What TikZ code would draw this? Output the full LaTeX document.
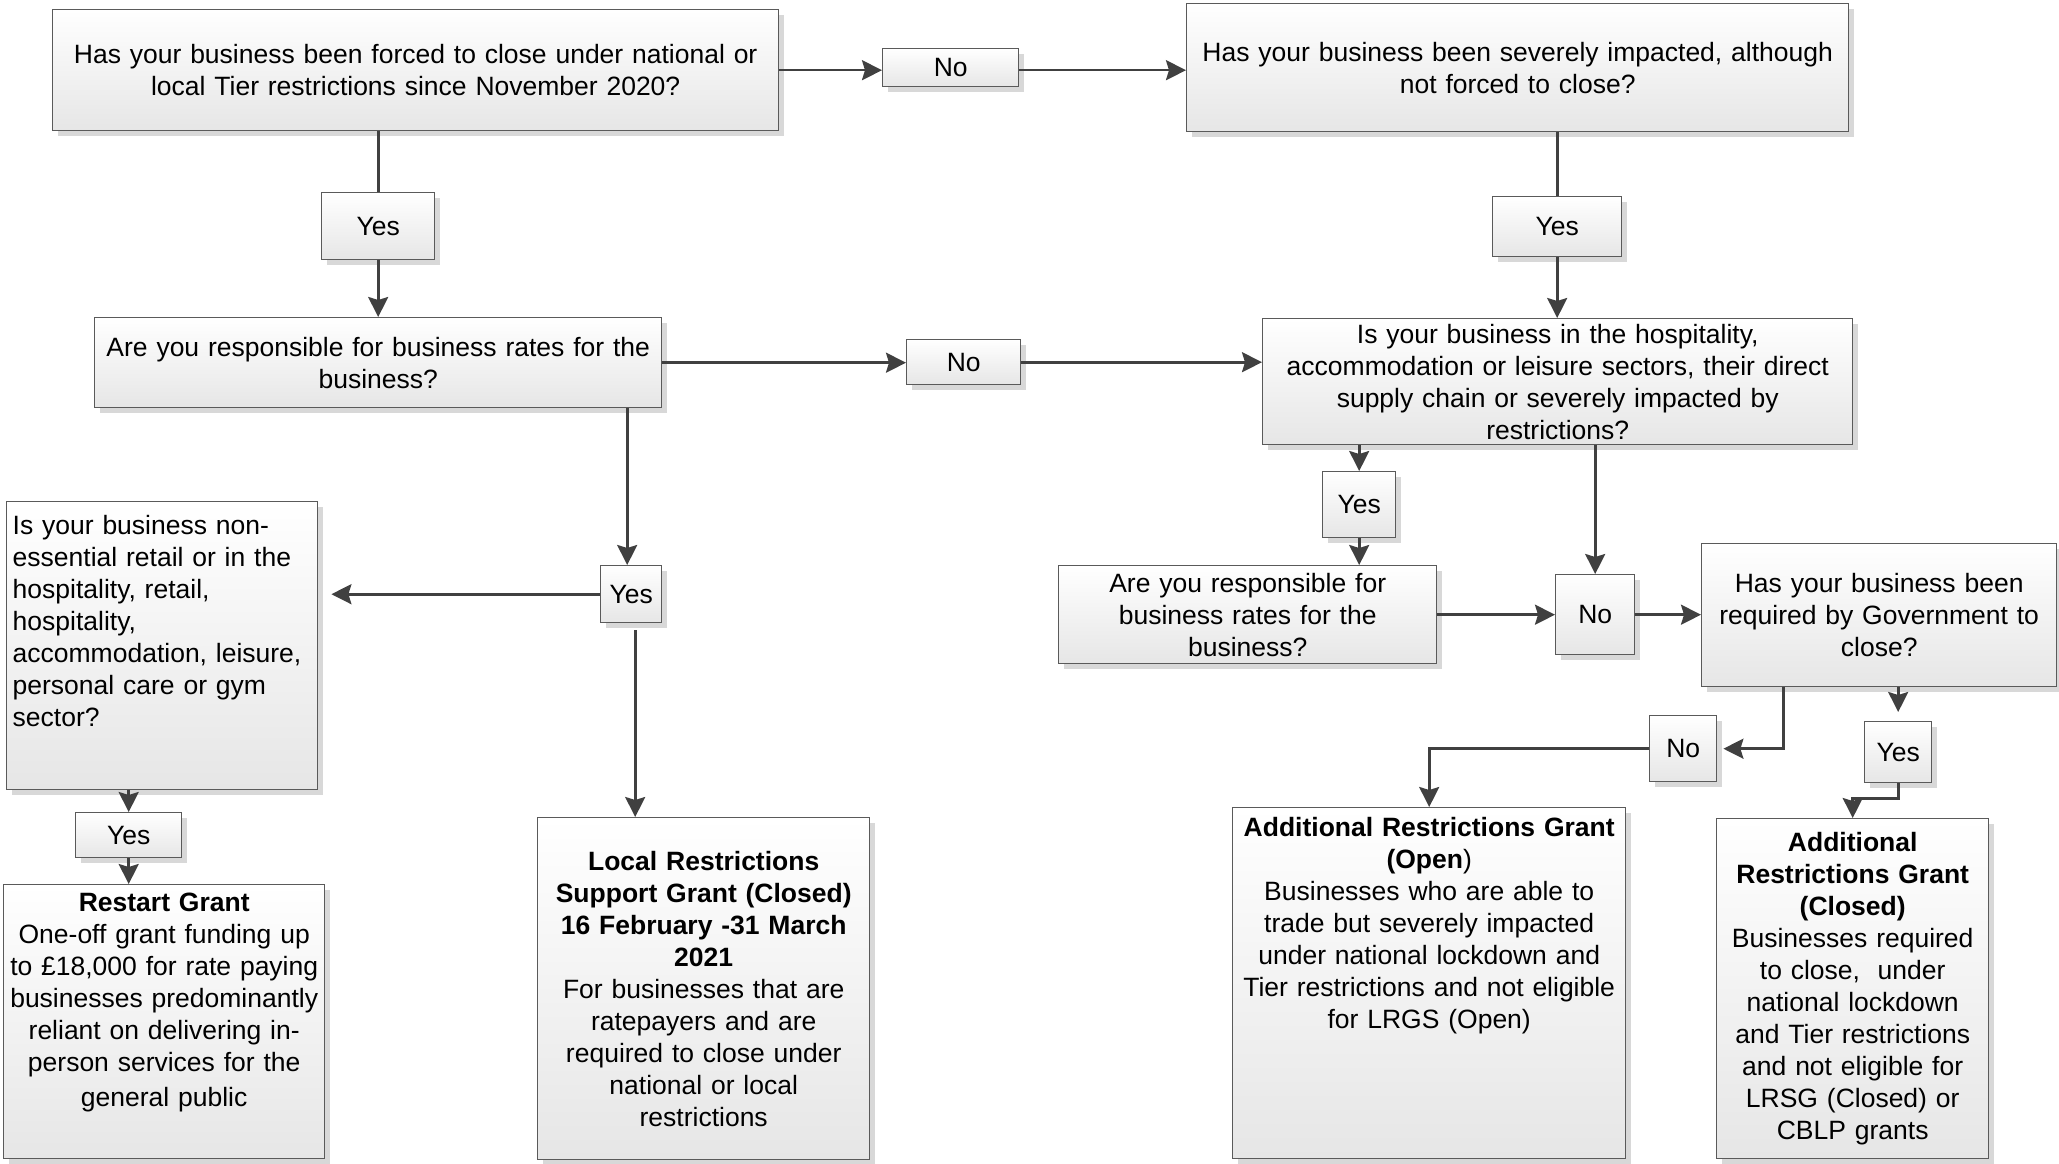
\documentclass[tikz,border=0pt]{standalone}
\usepackage{fontspec}
\setmainfont{Liberation Sans}
\usetikzlibrary{arrows.meta,shadows,calc}
\definecolor{edgegray}{HTML}{404040}
\definecolor{boxline}{HTML}{5A5A5A}
\definecolor{shadowgray}{HTML}{D8D8D8}
\definecolor{boxbottom}{HTML}{E6E6E6}
\tikzset{
  box/.style={draw=boxline, line width=1.4pt, top color=white, bottom color=boxbottom,
    drop shadow={shadow xshift=5pt, shadow yshift=-5pt, fill=shadowgray, opacity=1},
    inner sep=0pt, anchor=north west, align=center,
    font=\fontsize{26.5}{32}\selectfont},
  sz/.style 2 args={minimum width=#1pt, text width=#1pt, minimum height=#2pt},
  arr/.style={draw=edgegray, line width=2.6pt, -{Stealth[length=20pt,width=20pt,inset=3pt]}},
  wire/.style={draw=edgegray, line width=2.6pt}
}
\begin{document}
\begin{tikzpicture}[x=1pt,y=-1pt]
\useasboundingbox (0,0) rectangle (2059,1164);
\node[box, sz={726}{121}] (closed) at (52,9) {Has your business been forced to close under national or\\local Tier restrictions since November 2020?};
\node[box, sz={136}{38}] (no1) at (882,48) {No};
\node[box, sz={662}{128}] (impact) at (1186,3) {Has your business been severely impacted, although\\not forced to close?};
\node[box, sz={113}{67}] (yes1) at (321,192) {Yes};
\node[box, sz={129}{60}] (yes2) at (1492,196) {Yes};
\node[box, sz={567}{90}] (rates) at (94,317) {Are you responsible for business rates for the\\business?};
\node[box, sz={114}{45}] (no2) at (906,339) {No};
\node[box, sz={590}{126}] (sector) at (1262,318) {Is your business in the hospitality,\\accommodation or leisure sectors, their direct\\supply chain or severely impacted by\\restrictions?};
\node[box, sz={61}{57}] (yes3) at (600,565) {Yes};
\node[box, align=left, inner xsep=6pt, minimum width=311pt, text width=299pt, text height=33pt, text depth=255pt] (retail) at (6,501) {Is your business non-\\essential retail or in the\\hospitality, retail,\\hospitality,\\accommodation, leisure,\\personal care or gym\\sector?};
\node[box, sz={106}{45}] (yes4) at (75,812) {Yes};
\node[box, minimum width=321pt, text width=321pt, text height=27pt, text depth=247pt] (restart) at (3,884) {\textbf{Restart Grant}\\One-off grant funding up\\to £18,000 for rate paying\\businesses predominantly\\reliant on delivering in-\\person services for the\\[3pt]general public};
\node[box, sz={332}{342}] (lrsg) at (537,817) {\textbf{Local Restrictions}\\\textbf{Support Grant (Closed)}\\\textbf{16 February -31 March}\\\textbf{2021}\\For businesses that are\\ratepayers and are\\required to close under\\national or local\\restrictions};
\node[box, sz={73}{66}] (yes5) at (1322,471) {Yes};
\node[box, sz={378}{98}] (rates2) at (1058,565) {Are you responsible for\\business rates for the\\business?};
\node[box, sz={79}{80}] (no3) at (1555,574) {No};
\node[box, sz={355}{143}] (gov) at (1701,543) {Has your business been\\required by Government to\\close?};
\node[box, sz={67}{66}] (no4) at (1649,715) {No};
\node[box, sz={67}{61}] (yes6) at (1864,721) {Yes};
\node[box, minimum width=393pt, text width=393pt, text height=29pt, text depth=322pt] (argopen) at (1232,807) {\textbf{Additional Restrictions Grant}\\\textbf{(Open})\\Businesses who are able to\\trade but severely impacted\\under national lockdown and\\Tier restrictions and not eligible\\for LRGS (Open)};
\node[box, sz={272}{340}] (argclosed) at (1716,818) {\textbf{Additional}\\\textbf{Restrictions Grant}\\\textbf{(Closed)}\\Businesses required\\to close,~ under\\national lockdown\\and Tier restrictions\\and not eligible for\\LRSG (Closed) or\\CBLP grants};
\draw[arr] (closed.east) -- (closed.east -| no1.west);
\draw[arr] (no1.east |- closed.east) -- (closed.east -| impact.west);
\draw[wire] (yes1.north |- closed.south) -- (yes1.north);
\draw[arr] (yes1.south) -- (yes1.south |- rates.north);
\draw[wire] (yes2.north |- impact.south) -- (yes2.north);
\draw[arr] (yes2.south) -- (yes2.south |- sector.north);
\draw[arr] (rates.east) -- (rates.east -| no2.west);
\draw[arr] (no2.east) -- (no2.east -| sector.west);
\draw[arr] ([xshift=-4pt]yes3.north |- rates.south) -- ([xshift=-4pt]yes3.north);
\draw[arr, shorten >=13pt] (yes3.west) -- (yes3.west -| retail.east);
\draw[arr, shorten <=7pt] ([xshift=4pt]yes3.south) -- ([xshift=4pt]yes3.south |- lrsg.north);
\draw[arr] (yes4.north |- retail.south) -- (yes4.north);
\draw[arr] (yes4.south) -- (yes4.south |- restart.north);
\draw[arr] (yes5.north |- sector.south) -- (yes5.north);
\draw[arr] (yes5.south) -- (yes5.south |- rates2.north);
\draw[arr] (no3.north |- sector.south) -- (no3.north);
\draw[arr] (rates2.east) -- (rates2.east -| no3.west);
\draw[arr] (no3.east) -- (no3.east -| gov.west);
\draw[arr, shorten >=6pt] ([xshift=-96pt]gov.south) |- (no4.east);
\draw[arr] (no4.west) -| (argopen.north);
\draw[arr, shorten >=9pt] (yes6.north |- gov.south) -- (yes6.north);
\draw[arr] (yes6.south) -- ++(0,15) -| (argclosed.north);
\end{tikzpicture}
\end{document}
